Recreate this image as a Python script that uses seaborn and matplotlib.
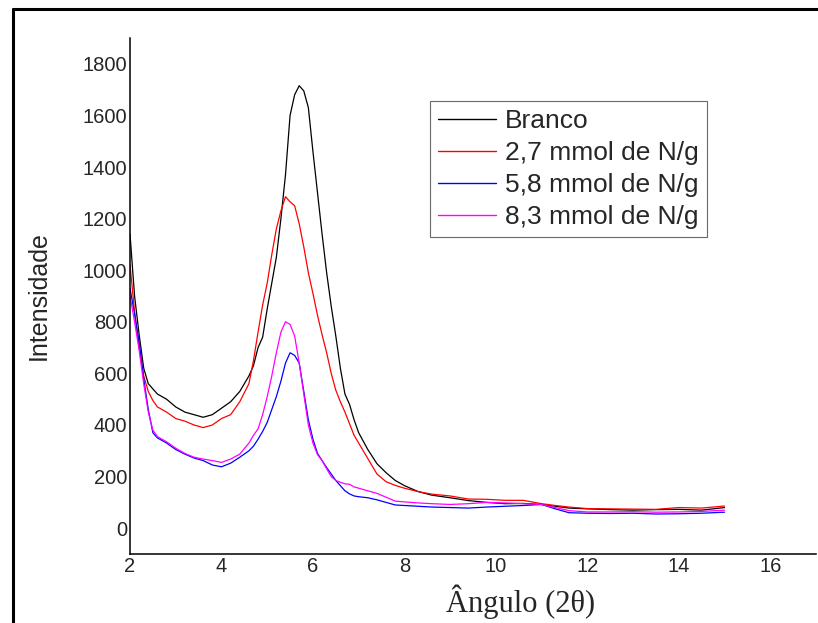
import pandas as pd
import matplotlib.pyplot as plt
import seaborn as sns
from matplotlib.lines import Line2D

# angle grid (2 theta)
angulo = [2.0, 2.1, 2.2, 2.3, 2.4, 2.5, 2.6,
          2.8, 3.0, 3.2, 3.4, 3.6, 3.8, 4.0, 4.2, 4.4,
          4.6, 4.7, 4.8, 4.9, 5.0, 5.1, 5.2, 5.3, 5.4, 5.5,
          5.6, 5.7, 5.8, 5.9, 6.0, 6.1, 6.2, 6.3, 6.4, 6.5,
          6.6, 6.7, 6.8, 6.9, 7.0,
          7.2, 7.4, 7.6, 7.8, 8.0, 8.3, 8.6,
          9.0, 9.4, 9.8, 10.2, 10.6, 11.0, 11.3, 11.6,
          12.0, 12.5, 13.0, 13.5, 14.0, 14.5, 15.0]

branco = [1140, 900, 750, 620, 560, 540, 520,
          500, 470, 450, 440, 430, 440, 465, 490, 530,
          590, 630, 700, 740, 850, 950, 1050, 1200, 1370, 1600,
          1680, 1715, 1695, 1630, 1460, 1300, 1140, 990, 860, 745,
          620, 520, 480, 420, 370,
          305, 250, 215, 185, 165, 142, 128,
          118, 107, 100, 95, 96, 92, 85, 78,
          75, 72, 70, 72, 73, 70, 80]

n27 = [1020, 840, 700, 590, 530, 495, 470,
       450, 425, 415, 400, 390, 400, 425, 440, 490,
       560, 650, 760, 865, 950, 1060, 1160, 1230, 1285, 1265,
       1250, 1180, 1090, 990, 910, 825, 750, 680, 600, 535,
       490, 450, 405, 360, 330,
       270, 210, 180, 166, 155, 142, 132,
       125, 113, 112, 108, 108, 95, 88, 82,
       76, 75, 74, 73, 80, 78, 86]

n58 = [930, 830, 720, 580, 460, 370, 350,
       330, 305, 287, 272, 262, 245, 238, 252, 275,
       300, 318, 345, 375, 410, 460, 510, 570, 640, 680,
       670, 640, 530, 420, 345, 290, 262, 235, 210, 185,
       165, 145, 133, 125, 122,
       118, 110, 100, 90, 88, 85, 82,
       80, 78, 82, 85, 88, 92, 75, 60,
       58, 57, 58, 55, 56, 58, 62]

n83 = [900, 800, 690, 560, 450, 380, 355,
       335, 310, 290, 275, 268, 262, 255, 268, 287,
       330, 360, 385, 440, 510, 590, 680, 760, 800, 790,
       745, 640, 520, 400, 330, 285, 262, 230, 200, 185,
       178, 172, 170, 160, 155,
       145, 135, 120, 105, 102, 98, 95,
       92, 95, 100, 98, 95, 92, 80, 68,
       63, 63, 64, 62, 63, 65, 70]

amostras = ["Branco", "2,7 mmol de N/g", "5,8 mmol de N/g", "8,3 mmol de N/g"]
cores = ["#000000", "#ff0000", "#0000ff", "#ff00ff"]

# long-form table for seaborn
df = pd.concat([
    pd.DataFrame({"angulo": angulo, "intensidade": y, "amostra": nome})
    for nome, y in zip(amostras, [branco, n27, n58, n83])
])

sns.set_style("white")
plt.rcParams["font.family"] = ["Liberation Sans", "DejaVu Sans"]

fig = plt.figure(figsize=(8.18, 6.23), dpi=100)
ax = fig.add_axes([130 / 818, 69 / 623, 686 / 818, 516 / 623])

sns.lineplot(data=df, x="angulo", y="intensidade", hue="amostra",
             palette=dict(zip(amostras, cores)), linewidth=0.9,
             sort=False, ax=ax)

ax.set_xlim(2, 17)
ax.set_ylim(-100, 1900)
ax.set_xticks(range(2, 17, 2))
ax.set_yticks(range(0, 1801, 200))
ax.tick_params(length=0, labelsize=14.5, pad=2)
sns.despine(ax=ax)
for s in ["left", "bottom"]:
    ax.spines[s].set_color("black")
    ax.spines[s].set_linewidth(1.1)

ax.set_xlabel("Ângulo (2θ)", fontsize=22, family=["Liberation Serif", "DejaVu Serif"], labelpad=6)
ax.xaxis.label.set_x((521 - 130) / 686)
ax.set_ylabel("Intensidade", fontsize=18, labelpad=23)

# legend
leg = ax.legend(loc="upper left", bbox_to_anchor=(430 / 818, 1 - 101 / 623),
                bbox_transform=fig.transFigure, fontsize=19, frameon=True,
                fancybox=False, borderaxespad=0, borderpad=0.3,
                labelspacing=0.31, handlelength=2.2, handletextpad=0.35)
leg.get_frame().set_edgecolor("#444444")
leg.get_frame().set_linewidth(0.8)
for h in leg.get_lines():
    h.set_linewidth(1.0)

# outer frame (cut on the right and bottom)
fig.add_artist(Line2D([13 / 818, 13 / 818], [-0.1, 1 - 9 / 623], color="black",
                      linewidth=2.2, transform=fig.transFigure))
fig.add_artist(Line2D([13 / 818, 1.1], [1 - 9 / 623, 1 - 9 / 623], color="black",
                      linewidth=2.2, transform=fig.transFigure))

fig.savefig("out.png", dpi=100)
plt.close()
